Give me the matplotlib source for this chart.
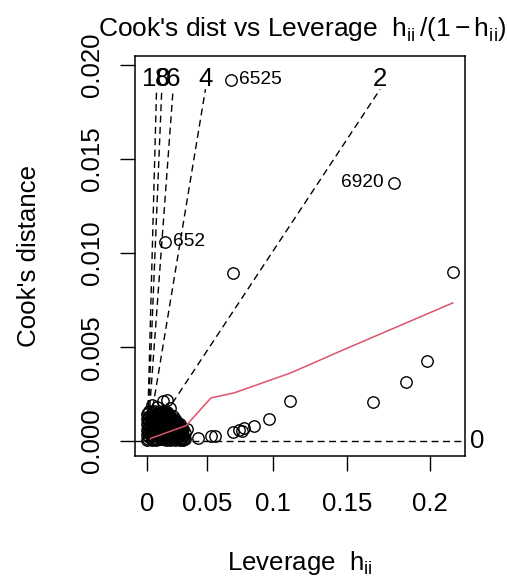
import matplotlib
matplotlib.use("Agg")
import matplotlib.pyplot as plt
import numpy as np

plt.rcParams['font.family'] = ['Liberation Sans', 'DejaVu Sans']
plt.rcParams['mathtext.fontset'] = 'custom'
plt.rcParams['mathtext.rm'] = 'Liberation Sans'
plt.rcParams['mathtext.it'] = 'Liberation Sans'
plt.rcParams['mathtext.bf'] = 'Liberation Sans:bold'

# ---------------- data ----------------
# dense cluster of low-leverage observations (two interleaved layers)
blob_lev = [
    0.000, 0.004, 0.008, 0.012, 0.016, 0.020, 0.024, 0.028, 0.031,
    0.002, 0.006, 0.010, 0.014, 0.018, 0.022, 0.026, 0.030,
    0.000, 0.004, 0.008, 0.012, 0.016, 0.020, 0.024, 0.028, 0.031,
    0.002, 0.006, 0.010, 0.014, 0.018, 0.022, 0.026, 0.030,
    0.000, 0.004, 0.008, 0.012, 0.016, 0.020, 0.024, 0.028, 0.031,
    0.002, 0.006, 0.010, 0.014, 0.018, 0.022, 0.026, 0.029,
    0.000, 0.004, 0.008, 0.012, 0.016, 0.020, 0.024, 0.028,
    0.002, 0.006, 0.010, 0.014, 0.018, 0.022, 0.026,
    0.000, 0.004, 0.008, 0.012, 0.016, 0.020, 0.024,
    0.002, 0.006, 0.010, 0.014, 0.018, 0.022,
    0.000, 0.004, 0.008, 0.012, 0.016, 0.019,
    0.002, 0.006, 0.010, 0.014, 0.017,
]
blob_cook = [
    0.00005, 0.00008, 0.00004, 0.00009, 0.00006, 0.00007, 0.00005, 0.00008, 0.00006,
    0.00021, 0.00019, 0.00022, 0.00018, 0.00021, 0.00020, 0.00022, 0.00019,
    0.00034, 0.00036, 0.00033, 0.00035, 0.00032, 0.00036, 0.00034, 0.00033, 0.00035,
    0.00049, 0.00047, 0.00050, 0.00046, 0.00049, 0.00048, 0.00050, 0.00047,
    0.00062, 0.00064, 0.00061, 0.00063, 0.00060, 0.00064, 0.00062, 0.00061, 0.00066,
    0.00077, 0.00075, 0.00078, 0.00074, 0.00077, 0.00076, 0.00075, 0.00078,
    0.00090, 0.00092, 0.00089, 0.00091, 0.00088, 0.00092, 0.00090, 0.00089,
    0.00105, 0.00103, 0.00106, 0.00102, 0.00104, 0.00105, 0.00103,
    0.00118, 0.00120, 0.00117, 0.00119, 0.00116, 0.00120, 0.00118,
    0.00133, 0.00131, 0.00134, 0.00130, 0.00133, 0.00132,
    0.00146, 0.00148, 0.00145, 0.00147, 0.00144, 0.00146,
    0.00158, 0.00160, 0.00157, 0.00161, 0.00156,
]
blob2_lev = [
    0.001, 0.005, 0.009, 0.013, 0.017, 0.021, 0.025, 0.029, 0.032,
    0.003, 0.007, 0.011, 0.015, 0.019, 0.023, 0.027, 0.031,
    0.001, 0.005, 0.009, 0.013, 0.017, 0.021, 0.025, 0.029, 0.032,
    0.003, 0.007, 0.011, 0.015, 0.019, 0.023, 0.027, 0.030,
    0.001, 0.005, 0.009, 0.013, 0.017, 0.021, 0.025, 0.029,
    0.003, 0.007, 0.011, 0.015, 0.019, 0.023, 0.027,
    0.001, 0.005, 0.009, 0.013, 0.017, 0.021, 0.025,
    0.003, 0.007, 0.011, 0.015, 0.019, 0.023,
    0.001, 0.005, 0.009, 0.013, 0.017, 0.021,
    0.003, 0.007, 0.011, 0.015, 0.019,
    0.001, 0.005, 0.009, 0.013, 0.016,
]
blob2_cook = [
    0.00013, 0.00012, 0.00014, 0.00011, 0.00013, 0.00014, 0.00012, 0.00013, 0.00011,
    0.00027, 0.00028, 0.00026, 0.00028, 0.00027, 0.00025, 0.00028, 0.00026,
    0.00041, 0.00042, 0.00040, 0.00043, 0.00041, 0.00040, 0.00042, 0.00041, 0.00043,
    0.00055, 0.00056, 0.00054, 0.00057, 0.00055, 0.00054, 0.00056, 0.00055,
    0.00069, 0.00070, 0.00068, 0.00071, 0.00069, 0.00068, 0.00070, 0.00069,
    0.00083, 0.00084, 0.00082, 0.00085, 0.00083, 0.00082, 0.00084,
    0.00097, 0.00098, 0.00096, 0.00099, 0.00097, 0.00096, 0.00098,
    0.00111, 0.00112, 0.00110, 0.00113, 0.00111, 0.00110,
    0.00125, 0.00126, 0.00124, 0.00127, 0.00125, 0.00124,
    0.00139, 0.00140, 0.00138, 0.00141, 0.00139,
    0.00152, 0.00153, 0.00151, 0.00154, 0.00150,
]
# other (scattered) observations
pt_lev = [0.0136, 0.0173, 0.0045, 0.0090, 0.0200,
          0.0340, 0.0312, 0.0427, 0.0533, 0.0565,
          0.0701, 0.0752, 0.0772, 0.0789, 0.0863, 0.0972, 0.1121,
          0.1664, 0.1863, 0.1981, 0.0701, 0.2126]
pt_cook = [0.00212, 0.00221, 0.00190, 0.00183, 0.00175,
           0.00066, 0.00018, 0.00018, 0.00030, 0.00030,
           0.00048, 0.00062, 0.00055, 0.00071, 0.00083, 0.00119, 0.00216,
           0.00207, 0.00313, 0.00425, 0.00894, 0.00899]
# labelled observations
id_lev = [0.0686, 0.1788, 0.0151]
id_cook = [0.01921, 0.01375, 0.01059]
id_labels = ["6525", "6920", "652"]
# smoother (red line)
smooth_lev = [0.0021, 0.0332, 0.0533, 0.0714, 0.1125, 0.1481, 0.2126]
smooth_cook = [0.000127, 0.00083, 0.00230, 0.00257, 0.00363, 0.00487, 0.00735]
# model rank and contour levels
rank_p = 44
bval = [0, 2, 4, 6, 8, 10]
lev_ticks = [0, 0.05, 0.1, 0.15, 0.2]
lev_tick_labels = ["0", "0.05", "0.1", "0.15", "0.2"]
cook_ticks = [0.000, 0.005, 0.010, 0.015, 0.020]
cook_tick_labels = ["0.000", "0.005", "0.010", "0.015", "0.020"]

# ---------------- figure ----------------
W, H = 507, 577
fig = plt.figure(figsize=(W / 100, H / 100), dpi=100)
L, R, T, B = 135, 465, 56, 456
ax = fig.add_axes([L / W, 1 - B / H, (R - L) / W, (B - T) / H])

def g(h):
    h = np.asarray(h, dtype=float)
    return h / (1 - h)

all_lev = np.concatenate([blob_lev, blob2_lev, pt_lev, id_lev])
all_cook = np.concatenate([blob_cook, blob2_cook, pt_cook, id_cook])
gmax = g(all_lev).max()
ymx = all_cook.max() * 1.025
xlim = (-0.04 * gmax, 1.04 * gmax)
ylim = (-0.04 * ymx, 1.04 * ymx)
ax.set_xlim(*xlim)
ax.set_ylim(*ylim)

mk = dict(marker='o', ls='none', mfc='none', mec='black', ms=8.2, mew=1.0)
ax.plot(g(blob_lev), blob_cook, **mk)
ax.plot(g(blob2_lev), blob2_cook, **mk)
ax.plot(g(pt_lev), pt_cook, **mk)
ax.plot(g(id_lev), id_cook, **mk)

ax.plot(g(smooth_lev), smooth_cook, color='#DF536B', lw=1.1)

# Cook's distance contours
xmax, ymax = xlim[1], ylim[1]
yrng = ylim[1] - ylim[0]
for b in bval:
    b2 = b * b
    if rank_p * ymax > b2 * xmax:
        ln, = ax.plot([xlim[0], xmax], [b2 * xlim[0] / rank_p, b2 * xmax / rank_p],
                      color='black', lw=1.0)
        ln.set_dashes((5, 3.2))
        ax.text(xmax + 0.004, b2 * xmax / rank_p, str(b), ha='left', va='center',
                fontsize=18.6, clip_on=False)
    else:
        yi = ymax - 0.083 * yrng
        xi = rank_p * yi / b2
        ln, = ax.plot([0, xi], [0, yi], color='black', lw=1.0)
        ln.set_dashes((5, 3.2))
        ax.text(xi, ymax - 0.075 * yrng, str(b), ha='center', va='baseline',
                fontsize=18.6, clip_on=False)

# labels of notable points
for lv, ck, lab in zip(id_lev, id_cook, id_labels):
    gx = float(g(lv))
    if gx > 0.5 * gmax:
        ax.annotate(lab, (gx, ck), xytext=(-7, 0), textcoords='offset points',
                    ha='right', va='center', fontsize=13.8)
    else:
        ax.annotate(lab, (gx, ck), xytext=(6, 0), textcoords='offset points',
                    ha='left', va='center', fontsize=13.8)

# axes
ax.set_xticks(g(lev_ticks))
ax.set_xticklabels(lev_tick_labels)
ax.set_yticks(cook_ticks)
ax.set_yticklabels(cook_tick_labels, rotation=90, va='center')
ax.tick_params(axis='both', length=11, width=1.0, labelsize=18.6, direction='out')
ax.tick_params(axis='x', pad=15)
ax.tick_params(axis='y', pad=11)
for s in ax.spines.values():
    s.set_linewidth(1.1)

fig.text(300 / W, 1 - 570 / H, r"Leverage  $\mathrm{h_{ii}}$", ha='center',
         va='baseline', fontsize=18.6)
fig.text(41 / W, 1 - 256 / H, "Cook's distance", rotation=90, ha='right',
         va='center', fontsize=18.6)
fig.text(302 / W, 1 - 37 / H,
         r"Cook's dist vs Leverage  $\mathrm{h_{ii}}\,/\left(1-\mathrm{h_{ii}}\right)$",
         ha='center', va='baseline', fontsize=19)

fig.savefig("out.png", dpi=100)
